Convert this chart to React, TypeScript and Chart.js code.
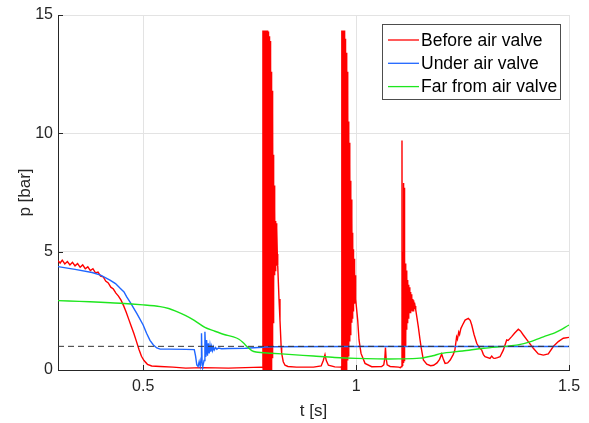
import React, { useEffect, useRef } from 'react';
import { Chart, registerables } from 'chart.js';

Chart.register(...registerables);

const FONT = "'Liberation Sans', Arial, Helvetica, sans-serif";

const xTickValues = [0.5, 1, 1.5];
const yTickValues = [0, 5, 10, 15];
const xRange = [0.3, 1.5];
const yRange = [0, 15];
const seriesNames = ['Before air valve', 'Under air valve', 'Far from air valve'];
const seriesColors = ['#ff0000', '#1f66ff', '#1ee61e'];
const refLevel = 1;

// Before air valve (red)
const redStartT = [0.300, 0.305, 0.310, 0.316, 0.322, 0.328, 0.334, 0.340, 0.346, 0.352, 0.358, 0.364, 0.370, 0.376, 0.382, 0.388, 0.394, 0.400, 0.406, 0.412, 0.418, 0.424, 0.430, 0.436, 0.442, 0.448, 0.454, 0.460, 0.466, 0.472, 0.478, 0.484, 0.490, 0.496, 0.502, 0.510, 0.520, 0.540, 0.570, 0.600, 0.640, 0.700, 0.740, 0.778, 0.7808];
const redStartP = [4.62, 4.52, 4.64, 4.48, 4.58, 4.44, 4.55, 4.40, 4.50, 4.34, 4.44, 4.28, 4.36, 4.20, 4.28, 4.10, 4.14, 3.97, 3.94, 3.76, 3.68, 3.50, 3.42, 3.25, 3.12, 2.95, 2.72, 2.45, 2.15, 1.85, 1.55, 1.22, 0.88, 0.58, 0.40, 0.24, 0.17, 0.15, 0.12, 0.08, 0.10, 0.08, 0.10, 0.12, 0.10];

const spike1T = [0.7812, 0.7818, 0.7824, 0.7830, 0.7836, 0.7842, 0.7848, 0.7854, 0.7860, 0.7866, 0.7872, 0.7878, 0.7884, 0.7890, 0.7896, 0.7902, 0.7908, 0.7914, 0.7920, 0.7926, 0.7932, 0.7940, 0.7948, 0.7956, 0.7964, 0.7972, 0.7980, 0.7988, 0.7996, 0.8004, 0.8012, 0.8020, 0.8028, 0.8036, 0.8044, 0.8052, 0.8060, 0.8068, 0.8076, 0.8084, 0.8092, 0.8100, 0.8108, 0.8116, 0.8124, 0.8132, 0.8140, 0.8150, 0.8160, 0.8190, 0.8213, 0.8240, 0.8253, 0.8290, 0.8331, 0.8400, 0.8600, 0.9000, 0.9180, 0.9230, 0.9270, 0.9300, 0.9350, 0.9500, 0.9640, 0.9658];
const spike1P = [14.35, -1, 14.35, -1, 14.35, -1, 14.35, -1, 14.35, -1, 14.35, -1, 14.35, -1, 14.35, -1, 14.35, -1, 14.35, -1, 14.3, -1, 14.2, -1, 14.1, -1, 13.9, -1, 13.3, -1, 12.6, -1, 11.8, 0.5, 10.9, 2.0, 9.1, 3.5, 7.8, 4.0, 6.8, 4.2, 6.3, 4.3, 6.2, 4.4, 6.0, 4.9, 4.4, 3.0, 2.1, 1.0, 0.7, 0.35, 0.2, 0.15, 0.12, 0.12, 0.17, 0.40, 0.65, 0.40, 0.20, 0.13, 0.12, 0.15];

const spike2T = [0.9662, 0.9668, 0.9674, 0.9680, 0.9686, 0.9692, 0.9698, 0.9704, 0.9710, 0.9716, 0.9722, 0.9728, 0.9734, 0.9740, 0.9746, 0.9752, 0.9760, 0.9768, 0.9776, 0.9784, 0.9792, 0.9800, 0.9808, 0.9816, 0.9824, 0.9832, 0.9840, 0.9848, 0.9856, 0.9864, 0.9872, 0.9880, 0.9888, 0.9896, 0.9904, 0.9912, 0.9920, 0.9928, 0.9936, 0.9944, 0.9952, 0.9960, 0.9968, 0.9976, 0.9984, 0.9995, 1.0038, 1.0069, 1.0116, 1.0210, 1.0367, 1.0600, 1.0650, 1.0675, 1.0690, 1.0705, 1.0730, 1.0800, 1.1000, 1.1040, 1.1070];
const spike2P = [14.35, -1, 14.35, -1, 14.35, -1, 14.35, -1, 14.35, -1, 14.35, -1, 14.35, -1, 14.0, -1, 13.6, -0.5, 13.4, 0.2, 12.6, 0.4, 11.6, 0.6, 10.5, 0.9, 9.6, 1.2, 8.7, 1.5, 8.0, 1.8, 7.2, 2.0, 6.5, 2.2, 5.8, 2.5, 5.1, 2.7, 4.7, 2.8, 4.3, 2.9, 4.0, 3.0, 2.1, 1.27, 0.7, 0.28, 0.14, 0.15, 0.22, 0.5, 0.95, 0.5, 0.22, 0.15, 0.12, 0.10, 0.15];

const spike3T = [1.1078, 1.1084, 1.1092, 1.1098, 1.1106, 1.1112, 1.1120, 1.1126, 1.1132, 1.1138, 1.1146, 1.1154, 1.1162, 1.1170, 1.1178, 1.1186, 1.1194, 1.1202, 1.1212, 1.1222, 1.1232, 1.1242, 1.1252, 1.1262, 1.1272, 1.1282, 1.1292, 1.1302, 1.1312, 1.1322, 1.1332, 1.1342, 1.1352, 1.1362, 1.1372, 1.1385, 1.1400, 1.1430, 1.1461, 1.1500, 1.1525, 1.1580];
const spike3P = [9.7, 0.2, 5.0, 0.2, 4.5, 0.3, 7.9, 0.4, 7.7, 0.6, 4.8, 1.0, 4.5, 1.3, 4.2, 1.7, 4.0, 2.0, 3.8, 2.2, 3.6, 2.3, 3.5, 2.4, 3.3, 2.4, 3.2, 2.5, 3.1, 2.5, 3.0, 2.5, 2.95, 2.6, 2.85, 2.7, 2.55, 2.2, 1.83, 1.3, 0.99, 0.42];

const redTailT = [1.166, 1.175, 1.182, 1.190, 1.196, 1.201, 1.205, 1.209, 1.215, 1.221, 1.228, 1.232, 1.236, 1.238, 1.241, 1.243, 1.246, 1.250, 1.256, 1.2636, 1.268, 1.2716, 1.277, 1.2833, 1.289, 1.295, 1.299, 1.3028, 1.3145, 1.3185, 1.3225, 1.3262, 1.332, 1.338, 1.3457, 1.3537, 1.357, 1.3654, 1.372, 1.381, 1.386, 1.3927, 1.4044, 1.4162, 1.4279, 1.4397, 1.4514, 1.4631, 1.4749, 1.4866, 1.5];
const redTailP = [0.25, 0.18, 0.20, 0.30, 0.45, 0.67, 0.45, 0.28, 0.30, 0.42, 0.65, 0.84, 1.40, 1.30, 1.60, 1.50, 1.75, 1.90, 2.11, 2.18, 2.10, 1.90, 1.50, 1.13, 0.95, 0.84, 0.65, 0.56, 0.49, 0.59, 0.50, 0.49, 0.52, 0.56, 0.84, 1.27, 1.25, 1.41, 1.55, 1.72, 1.65, 1.48, 1.20, 0.92, 0.68, 0.63, 0.68, 0.99, 1.20, 1.34, 1.38];

// Under air valve (blue)
const blueT = [0.300, 0.340, 0.380, 0.400, 0.422, 0.435, 0.446, 0.455, 0.461, 0.470, 0.485, 0.500, 0.508, 0.516, 0.524, 0.532, 0.540, 0.560, 0.600, 0.620, 0.623, 0.626, 0.629, 0.6315, 0.634, 0.636, 0.637, 0.6385, 0.640, 0.643, 0.645, 0.647, 0.649, 0.651, 0.653, 0.655, 0.657, 0.659, 0.661, 0.663, 0.665, 0.667, 0.670, 0.673, 0.677, 0.684, 0.700, 0.740, 0.770, 0.800, 1.000, 1.500];
const blueP = [4.37, 4.25, 4.12, 4.01, 3.80, 3.65, 3.45, 3.30, 3.10, 2.85, 2.39, 1.90, 1.55, 1.25, 1.06, 0.93, 0.88, 0.88, 0.87, 0.86, 0.60, 0.21, 0.15, 0.35, 0.15, 0.50, 1.55, 0.20, 0.15, 0.40, 1.62, 0.55, 1.27, 0.60, 1.13, 0.70, 1.05, 0.78, 1.00, 0.82, 0.97, 0.85, 0.95, 0.88, 0.93, 0.90, 0.91, 0.92, 0.95, 0.98, 0.99, 0.99];

// Far from air valve (green)
const greenT = [0.300, 0.350, 0.400, 0.446, 0.500, 0.540, 0.560, 0.575, 0.600, 0.620, 0.645, 0.665, 0.690, 0.712, 0.725, 0.735, 0.745, 0.755, 0.765, 0.800, 0.850, 0.900, 0.950, 1.000, 1.050, 1.100, 1.150, 1.180, 1.200, 1.250, 1.300, 1.350, 1.380, 1.410, 1.440, 1.470, 1.500];
const greenP = [2.93, 2.90, 2.86, 2.82, 2.75, 2.68, 2.60, 2.50, 2.30, 2.10, 1.80, 1.66, 1.50, 1.40, 1.30, 1.15, 0.97, 0.82, 0.76, 0.71, 0.65, 0.59, 0.53, 0.49, 0.47, 0.47, 0.50, 0.60, 0.70, 0.80, 0.92, 1.00, 1.06, 1.20, 1.40, 1.60, 1.90];

const pts = (ts: number[], ps: number[]) => ts.map((t, i) => ({ x: t, y: ps[i] }));

const redT = [...redStartT, ...spike1T, ...spike2T, ...spike3T, ...redTailT];
const redP = [...redStartP, ...spike1P, ...spike2P, ...spike3P, ...redTailP];

const legendPlugin = {
  id: 'boxLegend',
  afterDraw(chart: any) {
    const ctx = chart.ctx;
    const area = chart.chartArea;
    const boxW = 178;
    const boxH = 75;
    const right = area.right - 9;
    const left = right - boxW;
    const top = area.top + 9;
    ctx.save();
    ctx.fillStyle = '#ffffff';
    ctx.fillRect(left, top, boxW, boxH);
    ctx.strokeStyle = '#4d4d4d';
    ctx.lineWidth = 1;
    ctx.strokeRect(Math.round(left) + 0.5, Math.round(top) + 0.5, boxW, boxH);
    ctx.font = `17.5px ${FONT}`;
    ctx.textBaseline = 'middle';
    ctx.textAlign = 'left';
    seriesNames.forEach((name, i) => {
      const y = top + 16 + i * 23.3;
      ctx.strokeStyle = seriesColors[i];
      ctx.lineWidth = 1.3;
      ctx.beginPath();
      ctx.moveTo(left + 6, y);
      ctx.lineTo(left + 37, y);
      ctx.stroke();
      ctx.fillStyle = '#000000';
      ctx.fillText(name, left + 39, y + 1);
    });
    ctx.restore();
  },
};

const innerTicksPlugin = {
  id: 'innerTicks',
  afterDatasetsDraw(chart: any) {
    const ctx = chart.ctx;
    const area = chart.chartArea;
    const xs = chart.scales.x;
    const ys = chart.scales.y;
    ctx.save();
    ctx.strokeStyle = '#262626';
    ctx.lineWidth = 1;
    ctx.beginPath();
    xTickValues.forEach((v) => {
      const px = Math.round(xs.getPixelForValue(v)) + 0.5;
      ctx.moveTo(px, area.bottom);
      ctx.lineTo(px, area.bottom - 5);
    });
    yTickValues.forEach((v) => {
      const py = Math.round(ys.getPixelForValue(v)) + 0.5;
      ctx.moveTo(area.left, py);
      ctx.lineTo(area.left + 5, py);
    });
    ctx.stroke();
    ctx.restore();
  },
};

export default function App() {
  const ref = useRef<HTMLCanvasElement | null>(null);

  useEffect(() => {
    if (!ref.current) return;
    const chart = new Chart(ref.current, {
      type: 'line',
      data: {
        datasets: [
          {
            label: 'ref',
            data: [{ x: xRange[0], y: refLevel }, { x: xRange[1], y: refLevel }],
            borderColor: '#333333',
            borderWidth: 1,
            borderDash: [6, 4],
            pointRadius: 0,
          },
          {
            label: seriesNames[2],
            data: pts(greenT, greenP),
            borderColor: seriesColors[2],
            borderWidth: 1.4,
            pointRadius: 0,
            tension: 0.3,
          },
          {
            label: seriesNames[1],
            data: pts(blueT, blueP),
            borderColor: seriesColors[1],
            borderWidth: 1.4,
            pointRadius: 0,
          },
          {
            label: seriesNames[0],
            data: pts(redT, redP),
            borderColor: seriesColors[0],
            borderWidth: 1.4,
            pointRadius: 0,
          },
        ],
      },
      options: {
        animation: false,
        responsive: true,
        maintainAspectRatio: false,
        layout: { padding: { top: 15, right: 20, left: 0, bottom: 0 } },
        plugins: {
          legend: { display: false },
          tooltip: { enabled: false },
        },
        scales: {
          x: {
            type: 'linear',
            min: xRange[0],
            max: xRange[1],
            afterBuildTicks: (scale: any) => {
              scale.ticks = xTickValues.map((v) => ({ value: v }));
            },
            afterFit: (scale: any) => {
              scale.height = 53;
            },
            ticks: {
              color: '#262626',
              font: { family: FONT, size: 16 },
              padding: 7,
              maxRotation: 0,
              callback: (v: any) => String(v),
            },
            grid: { color: '#e3e3e3', drawTicks: false, lineWidth: 1 },
            border: { color: '#262626', width: 1 },
            title: {
              display: true,
              text: 't [s]',
              color: '#262626',
              font: { family: FONT, size: 17 },
              padding: { top: 0, bottom: 1 },
            },
          },
          y: {
            type: 'linear',
            min: yRange[0],
            max: yRange[1],
            afterBuildTicks: (scale: any) => {
              scale.ticks = yTickValues.map((v) => ({ value: v }));
            },
            afterFit: (scale: any) => {
              scale.width = 58;
            },
            ticks: {
              color: '#262626',
              font: { family: FONT, size: 16 },
              padding: 5,
              callback: (v: any) => String(v),
            },
            grid: { color: '#e3e3e3', drawTicks: false, lineWidth: 1 },
            border: { color: '#262626', width: 1 },
            title: {
              display: true,
              text: 'p [bar]',
              color: '#262626',
              font: { family: FONT, size: 17 },
              padding: { top: 15, bottom: 0 },
            },
          },
        },
      },
      plugins: [innerTicksPlugin, legendPlugin],
    } as any);
    return () => chart.destroy();
  }, []);

  return (
    <div style={{ position: 'fixed', left: 0, top: 0, width: 589, height: 423, background: '#ffffff' }}>
      <canvas ref={ref} />
    </div>
  );
}
